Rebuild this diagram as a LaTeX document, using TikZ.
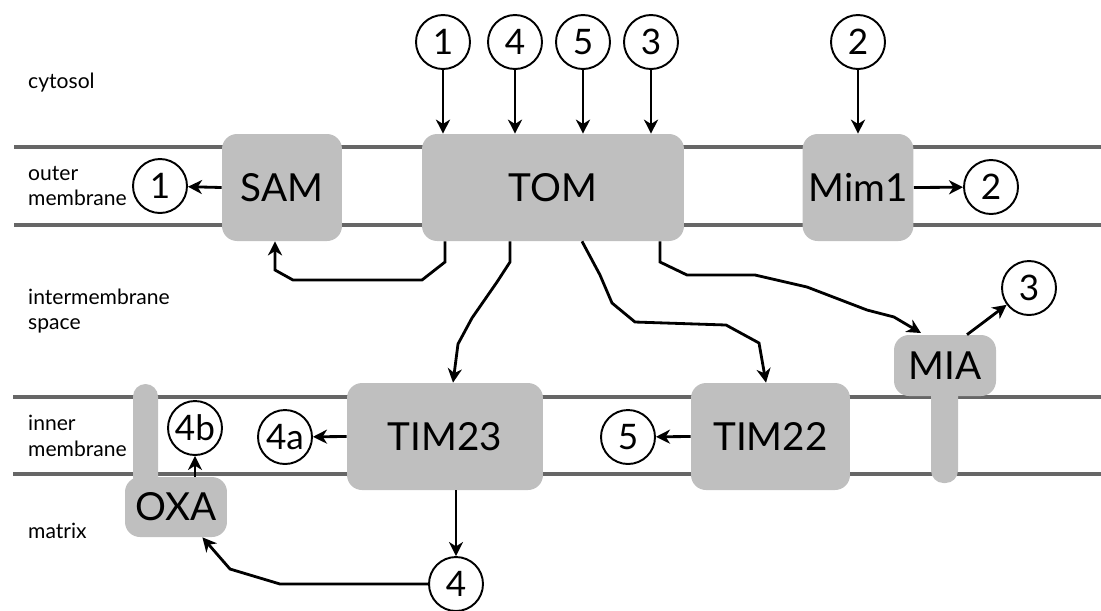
\documentclass[tikz,border=0pt]{standalone}
\usepackage{fontspec}
\setmainfont{Lato}
\usetikzlibrary{arrows.meta}
\definecolor{protgray}{gray}{0.75}
\definecolor{linegray}{gray}{0.4}

\begin{document}
\begin{tikzpicture}[x=0.02cm, y=-0.02cm,
  membrane/.style={line width=1.8pt, draw=linegray},
  protein/.style={fill=protgray, rounded corners=0.3cm, font=\fontsize{22}{26}\selectfont},
  num/.style={circle, draw, line width=1.1pt, fill=white, minimum size=1.08cm, inner sep=0pt, font=\fontsize{20}{24}\selectfont},
  arr/.style={line width=1.6pt, -{Stealth[length=8pt,width=8pt,inset=2.5pt]}},
  region/.style={anchor=west, align=left, font=\fontsize{12}{14.7}\selectfont}]
 \useasboundingbox (0,0) rectangle (1101,610);
 % membranes
 \draw[membrane] (14,147) -- (1101,147);
 \draw[membrane] (14,225) -- (1101,225);
 \draw[membrane] (13,397) -- (1101,397);
 \draw[membrane] (13,474) -- (1101,474);
 % compartments
 \node[region] (cyt) at (22,83) {cytosol};
 \node[region] (om) at (22,186) {outer\\membrane};
 \node[region] (ims) at (22,311) {intermembrane\\space};
 \node[region] (im) at (22,436) {inner\\membrane};
 \node[region] (mat) at (22,531) {matrix};
 % anchors in the inner membrane
 \fill[protgray, rounded corners=0.25cm] (931,380) rectangle (958,483);
 \fill[protgray, rounded corners=0.25cm] (133,384) rectangle (158,490);
 % complexes
 \node[protein, minimum width=2.4cm, minimum height=2.14cm] (sam) at (282,187.5) {SAM};
 \node[protein, minimum width=5.24cm, minimum height=2.14cm] (tom) at (553,187.5) {TOM};
 \node[protein, minimum width=2.04cm, minimum height=2.14cm] (mim) at (858,187.5) {Mim1};
 \node[protein, minimum width=3.92cm, minimum height=2.14cm] (tim23) at (445,436.5) {TIM23};
 \node[protein, minimum width=3.18cm, minimum height=2.14cm] (tim22) at (770.5,436.5) {TIM22};
 \node[protein, minimum width=2.04cm, minimum height=1.22cm] (mia) at (945,365.5) {MIA};
 \node[protein, minimum width=2.04cm, minimum height=1.2cm] (oxa) at (176,507) {OXA};
 % precursors
 \node[num] (t1) at (443,42) {1};
 \node[num] (t4) at (515,42) {4};
 \node[num] (t5) at (583,42) {5};
 \node[num] (t3) at (651,42) {3};
 \node[num] (t2) at (858,42) {2};
 \node[num] (s1) at (160,186) {1};
 \node[num] (m2) at (991,187) {2};
 \node[num] (i3) at (1029,288) {3};
 \node[num] (x4b) at (195,428) {4b};
 \node[num] (x4a) at (285,437) {4a};
 \node[num] (x5) at (628,437) {5};
 \node[num] (b4) at (456,584) {4};
 % import into the outer membrane
 \foreach \n in {t1,t4,t5,t3} \draw[arr] (\n) -- (\n |- tom.north);
 \draw[arr] (t2) -- (t2 |- mim.north);
 \draw[arr] (sam.west) -- (s1);
 \draw[arr] (mim.east) -- (m2);
 % sorting below TOM
 \draw[arr] (445,0 |- tom.south) -- (445,262) -- (422,280) -- (293,280) -- (275,270) -- (275,0 |- sam.south);
 \draw[arr] (510,0 |- tom.south) -- (510,262) -- (497,282) -- (472,318) -- (458,344) -- (453,0 |- tim23.north);
 \draw[arr] (582,0 |- tom.south) -- (600,275) -- (612,303) -- (635,322) -- (726,325) -- (759,343) -- (766,0 |- tim22.north);
 \draw[arr] (660,0 |- tom.south) -- (660,262) -- (687,275) -- (755,275) -- (807,287) -- (867,310) -- (894,317) -- (921,333);
 \draw[arr] (967,0 |- mia.north) -- (i3);
 % inner membrane
 \draw[arr] (tim23.west) -- (x4a);
 \draw[arr] (tim22.west) -- (x5);
 \draw[arr] (b4 |- tim23.south) -- (b4);
 \draw[arr] (b4.west) -- (280,584) -- (230,569) -- (oxa);
 \draw[arr] (x4b |- oxa.north) -- (x4b);
\end{tikzpicture}
\end{document}
